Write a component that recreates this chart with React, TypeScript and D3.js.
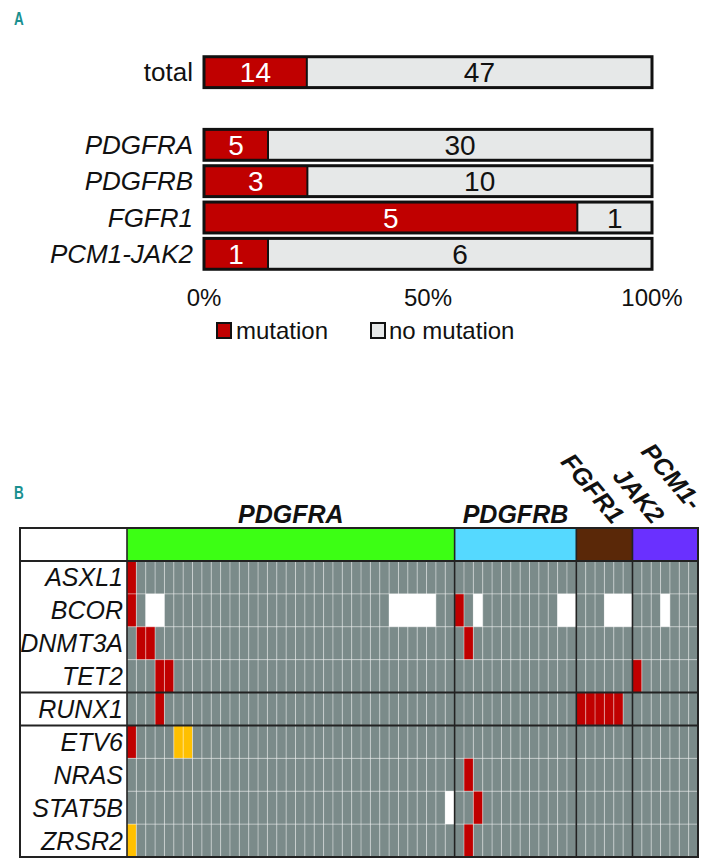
import React, { useEffect } from 'react';
import * as d3 from 'd3';

// ---- panel A data ----
const barRows = ['total', '_gap', 'PDGFRA', 'PDGFRB', 'FGFR1', 'PCM1-JAK2'];
const barCategories = ['total', 'PDGFRA', 'PDGFRB', 'FGFR1', 'PCM1-JAK2'];
const mutationCounts = [14, 5, 3, 5, 1];
const noMutationCounts = [47, 30, 10, 1, 6];
const pctTicks = [0, 0.5, 1];

// ---- panel B data ----
const groups = ['PDGFRA', 'PDGFRB', 'FGFR1', 'PCM1-JAK2'];
const groupSizes = [35, 13, 6, 7];
const groupColors = ['#3cff14', '#55d9ff', '#5a2808', '#6a30ff'];
const genes = ['ASXL1', 'BCOR', 'DNMT3A', 'TET2', 'RUNX1', 'ETV6', 'NRAS', 'STAT5B', 'ZRSR2'];
// patient column indices per gene (same order as genes)
const mutated = [[0], [0, 35], [1, 2, 36], [3, 4, 54], [3, 48, 49, 50, 51, 52], [0], [36], [37], [36]];
const uncertain = [[], [], [], [], [], [5, 6], [], [], [0]];
const notAvailable = [[], [2, 3, 28, 29, 30, 31, 32, 37, 46, 47, 51, 52, 53, 57], [], [], [], [], [], [34], []];
// thick separators drawn below these genes
const blockEnds = ['TET2', 'RUNX1'];

const FONT = "'Liberation Sans', Arial, sans-serif";
const RED = '#c00000';
const GREY = '#e6e8e8';
const CELL = '#7b8b8a';

function Txt(props: {
  x: number; y: number; size: number; anchor?: string; fill?: string;
  italic?: boolean; bold?: boolean; rotate?: number; squeeze?: number; children: React.ReactNode;
}) {
  const { x, y, size, anchor = 'start', fill = '#111', italic, bold, rotate = 0, squeeze = 1, children } = props;
  return (
    <g transform={`translate(${x},${y}) rotate(${rotate}) scale(${squeeze},1)`}>
      <text fontSize={size} textAnchor={anchor} fill={fill}
        fontStyle={italic ? 'italic' : 'normal'} fontWeight={bold ? 'bold' : 'normal'}>
        {children}
      </text>
    </g>
  );
}

export default function App() {
  useEffect(() => {
    document.body.style.margin = '0';
  }, []);

  // panel A scales
  const x = d3.scaleLinear().domain([0, 1]).range([204, 652]);
  const y = d3.scaleBand().domain(barRows).range([54, 272]).paddingInner(0.15).paddingOuter(0.075);
  const pct = d3.format('.0%');

  // panel B scales
  const nCols = d3.sum(groupSizes);
  const col = d3.scaleBand<number>().domain(d3.range(nCols)).range([127, 698]);
  const row = d3.scaleBand().domain(genes).range([561, 857]);
  const groupStarts = groupSizes.map((_, i) => d3.sum(groupSizes.slice(0, i)));
  const cw = col.bandwidth();
  const rh = row.bandwidth();
  const tableLeft = 20;
  const headTop = 528;
  const tableRight = 698;
  const tableBottom = row.range()[1];

  const cellColor = (gi: number, c: number) => {
    if (mutated[gi].includes(c)) return RED;
    if (uncertain[gi].includes(c)) return '#ffc000';
    if (notAvailable[gi].includes(c)) return '#ffffff';
    return CELL;
  };

  return (
    <svg width={714} height={864} style={{ display: 'block', fontFamily: FONT }}>
      <rect width={714} height={864} fill="#fff" />
      <Txt x={14} y={25} size={18} bold fill="#1a9090" squeeze={0.75}>A</Txt>

      {barCategories.map((cat, i) => {
        const total = mutationCounts[i] + noMutationCounts[i];
        const frac = mutationCounts[i] / total;
        const y0 = y(cat)!;
        const h = y.bandwidth();
        const mid = y0 + h / 2;
        return (
          <g key={cat}>
            <rect x={x(0)} y={y0} width={x(frac) - x(0)} height={h} fill={RED} />
            <rect x={x(frac)} y={y0} width={x(1) - x(frac)} height={h} fill={GREY} />
            <line x1={x(frac)} x2={x(frac)} y1={y0} y2={y0 + h} stroke="#111" strokeWidth={2} />
            <rect x={x(0)} y={y0} width={x(1) - x(0)} height={h} fill="none" stroke="#111" strokeWidth={3} />
            <Txt x={(x(0) + x(frac)) / 2} y={mid + 10} size={28} fill="#fff" anchor="middle">
              {mutationCounts[i]}
            </Txt>
            <Txt x={(x(frac) + x(1)) / 2} y={mid + 10} size={28} anchor="middle">
              {noMutationCounts[i]}
            </Txt>
            <Txt x={193} y={mid + 9} size={26} anchor="end" italic={cat !== 'total'}>
              {cat}
            </Txt>
          </g>
        );
      })}

      {pctTicks.map(t => (
        <Txt key={t} x={x(t)} y={306} size={24} anchor="middle">{pct(t)}</Txt>
      ))}

      <g>
        <rect x={217} y={323} width={14} height={15} fill={RED} stroke="#111" strokeWidth={2} />
        <Txt x={236} y={339} size={24}>mutation</Txt>
        <rect x={371} y={323} width={14} height={15} fill={GREY} stroke="#111" strokeWidth={2} />
        <Txt x={389} y={339} size={24}>no mutation</Txt>
      </g>

      <Txt x={14} y={499} size={18} bold fill="#1a9090" squeeze={0.75}>B</Txt>

      {/* header row */}
      <rect x={tableLeft} y={headTop} width={col.range()[0] - tableLeft} height={row.range()[0] - headTop} fill="#fff" />
      {groups.map((g, i) => (
        <rect key={g} x={col(groupStarts[i])!} y={headTop} width={groupSizes[i] * cw}
          height={row.range()[0] - headTop} fill={groupColors[i]} />
      ))}
      <Txt x={col(groupStarts[0])! + (groupSizes[0] * cw) / 2} y={523} size={25} bold italic anchor="middle">PDGFRA</Txt>
      <Txt x={col(groupStarts[1])! + (groupSizes[1] * cw) / 2} y={523} size={25} bold italic anchor="middle">PDGFRB</Txt>
      <Txt x={586} y={494} size={25} bold italic anchor="middle" rotate={50}>FGFR1</Txt>
      <Txt x={665} y={482} size={25} bold italic anchor="middle" rotate={50}>PCM1-</Txt>
      <Txt x={632} y={501} size={25} bold italic anchor="middle" rotate={50}>JAK2</Txt>

      {/* row labels */}
      <rect x={tableLeft} y={row.range()[0]} width={col.range()[0] - tableLeft} height={tableBottom - row.range()[0]} fill="#fff" />
      {genes.map(g => (
        <Txt key={g} x={123} y={row(g)! + rh / 2 + 9} size={25} italic anchor="end">{g}</Txt>
      ))}

      {/* cells */}
      {genes.map((g, gi) =>
        d3.range(nCols).map(c => (
          <rect key={g + c} x={col(c)!} y={row(g)!} width={cw} height={rh} fill={cellColor(gi, c)} />
        ))
      )}

      {/* light grid */}
      {d3.range(1, nCols).map(c => (
        <line key={'v' + c} x1={col(c)!} x2={col(c)!} y1={row.range()[0]} y2={tableBottom}
          stroke="#fff" strokeOpacity={0.45} strokeWidth={1} />
      ))}
      {genes.slice(1).map(g => (
        <line key={'h' + g} x1={col.range()[0]} x2={tableRight} y1={row(g)!} y2={row(g)!}
          stroke="#fff" strokeOpacity={0.45} strokeWidth={1} />
      ))}

      {/* dark structure lines */}
      {groupStarts.slice(1).map(s => (
        <line key={'g' + s} x1={col(s)!} x2={col(s)!} y1={headTop} y2={tableBottom} stroke="#222" strokeWidth={1.6} />
      ))}
      <line x1={col.range()[0]} x2={col.range()[0]} y1={headTop} y2={tableBottom} stroke="#222" strokeWidth={1.6} />
      <line x1={tableLeft} x2={tableRight} y1={row.range()[0]} y2={row.range()[0]} stroke="#222" strokeWidth={2} />
      {blockEnds.map(g => (
        <line key={'b' + g} x1={tableLeft} x2={tableRight} y1={row(g)! + rh} y2={row(g)! + rh}
          stroke="#222" strokeWidth={2} />
      ))}
      <rect x={tableLeft} y={headTop} width={tableRight - tableLeft} height={tableBottom - headTop}
        fill="none" stroke="#222" strokeWidth={2} />
    </svg>
  );
}
